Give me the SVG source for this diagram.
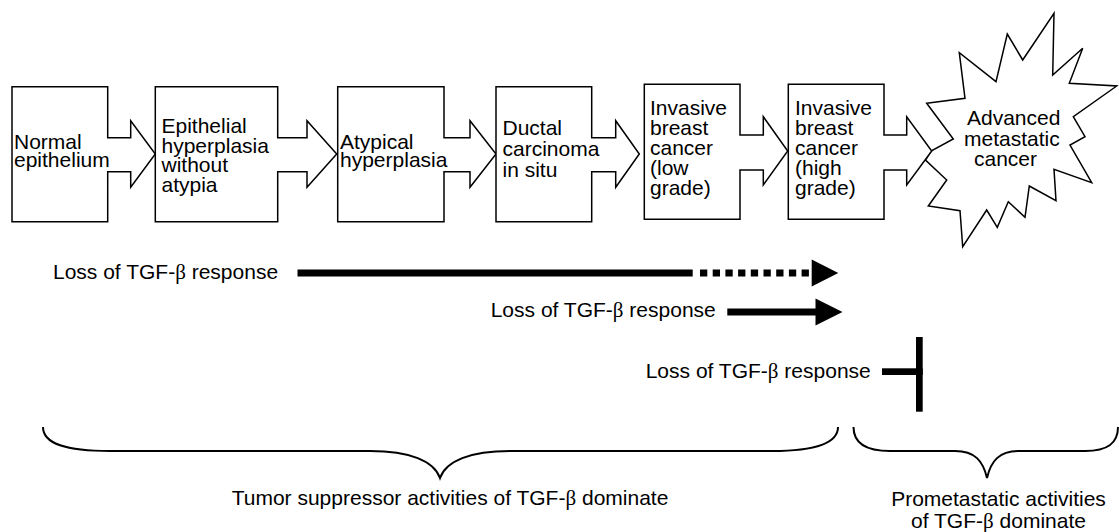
<svg xmlns="http://www.w3.org/2000/svg" width="1119" height="532" viewBox="0 0 1119 532">
<style>
.shape{fill:#fff;stroke:#000;stroke-width:1.5;stroke-linejoin:miter}
.t{font-family:"Liberation Sans",Arial,Helvetica,sans-serif;font-size:21px;fill:#000}
.b{font-family:"Liberation Serif","Times New Roman",serif}
.bar{fill:#000}
.brace{fill:none;stroke:#000;stroke-width:2}
</style>
<rect width="1119" height="532" fill="#fff"/>
<g id="n7">
<polygon class="shape" points="926.7,103.3 965,98.3 959.3,52.7 996,81.7 1007.3,34 1022.7,60 1054,13.3 1052.7,75 1082.7,48.3 1069.3,83.3 1116.7,86 1073.3,116.7 1085,136.7 1070,145 1091.7,182.7 1054,169.3 1056,200.7 1029.3,186 1025,217.3 1008.3,201.7 997.3,227.3 986.7,210 962.7,246.7 960,210.7 928.3,206 946.7,180 925.5,160 931,151 953.3,139"/>
<text class="t" x="967" y="125">Advanced</text>
<text class="t" x="964" y="145.5">metastatic</text>
<text class="t" x="974" y="165.5">cancer</text>
</g>
<g id="n1">
<path class="shape" d="M12,86.7 H107.7 V137.7 H130.7 V120.7 L155.3,154 L130.7,187.3 V171.7 H107.7 V221.7 H12 Z"/>
<text class="t" x="14" y="148.5">Normal</text>
<text class="t" x="14" y="167">epithelium</text>
</g>
<g id="n2">
<path class="shape" d="M155.3,86.7 H277.7 V137.7 H307 V120.7 L336.7,154 L307,187.3 V171.7 H277.7 V221.7 H155.3 Z"/>
<text class="t" x="161.5" y="133">Epithelial</text>
<text class="t" x="161.5" y="152.5">hyperplasia</text>
<text class="t" x="161.5" y="172">without</text>
<text class="t" x="161.5" y="191.5">atypia</text>
</g>
<g id="n3">
<path class="shape" d="M337.7,86.7 H444 V137.7 H470 V120.7 L496,154 L470,187.3 V171.7 H444 V221.7 H337.7 Z"/>
<text class="t" x="340" y="148.5">Atypical</text>
<text class="t" x="340" y="167">hyperplasia</text>
</g>
<g id="n4">
<path class="shape" d="M496,86.7 H591.7 V137.7 H615.7 V120.7 L639.3,154 L615.7,187.3 V171.7 H591.7 V221.7 H496 Z"/>
<text class="t" x="502.5" y="135">Ductal</text>
<text class="t" x="502.5" y="156">carcinoma</text>
<text class="t" x="502.5" y="177">in situ</text>
</g>
<g id="n5">
<path class="shape" d="M644.3,84.3 H740 V135 H763.3 V116.7 L787.7,151 L763.3,185 V170 H740 V219.3 H644.3 Z"/>
<text class="t" x="650" y="114.5">Invasive</text>
<text class="t" x="650" y="134.5">breast</text>
<text class="t" x="650" y="154.5">cancer</text>
<text class="t" x="650" y="174.5">(low</text>
<text class="t" x="650" y="194.5">grade)</text>
</g>
<g id="n6">
<path class="shape" d="M788.3,84.3 H884 V135 H906.7 V116.7 L931.7,151 L906.7,185 V170 H884 V219.3 H788.3 Z"/>
<text class="t" x="795" y="114.5">Invasive</text>
<text class="t" x="795" y="134.5">breast</text>
<text class="t" x="795" y="154.5">cancer</text>
<text class="t" x="795" y="174.5">(high</text>
<text class="t" x="795" y="194.5">grade)</text>
</g>
<g id="connectors">
<rect class="bar" x="297.5" y="269.5" width="395.2" height="7"/>
<line x1="700" y1="273" x2="810" y2="273" stroke="#000" stroke-width="7" stroke-dasharray="7.3 5.4"/>
<polygon class="bar" points="811.7,259.5 838.3,273 811.7,286.5"/>
<rect class="bar" x="727.3" y="308.5" width="89.7" height="7"/>
<polygon class="bar" points="815.5,298.5 842.5,312 815.5,325.5"/>
<rect class="bar" x="882" y="368.3" width="40.7" height="6.7"/>
<rect class="bar" x="916" y="337" width="6.7" height="74.7"/>
</g>
<g id="labels">
<text class="t" x="53" y="278.5">Loss of TGF-<tspan class="b">β</tspan> response</text>
<text class="t" x="490.7" y="316.5">Loss of TGF-<tspan class="b">β</tspan> response</text>
<text class="t" x="645.7" y="378.3">Loss of TGF-<tspan class="b">β</tspan> response</text>
</g>
<g id="braces">
<path class="brace" d="M43,427 C43,444 66,451 110,451 L370,451 C410,451 434,461 440,478 C446,461 470,451 510,451 L772,451 C814,451 838,444 838,427"/>
<path class="brace" d="M853.5,427 C853.5,443 866,451 890,451 L955,451 C975,451 983,461 987,478 C991,461 999,451 1019,451 L1085,451 C1108,451 1118,443 1118,427"/>
<text class="t" x="231.7" y="505">Tumor suppressor activities of TGF-<tspan class="b">β</tspan> dominate</text>
<text class="t" x="998.5" y="505.5" text-anchor="middle">Prometastatic activities</text>
<text class="t" x="998.5" y="528" text-anchor="middle">of TGF-<tspan class="b">β</tspan> dominate</text>
</g>
</svg>
